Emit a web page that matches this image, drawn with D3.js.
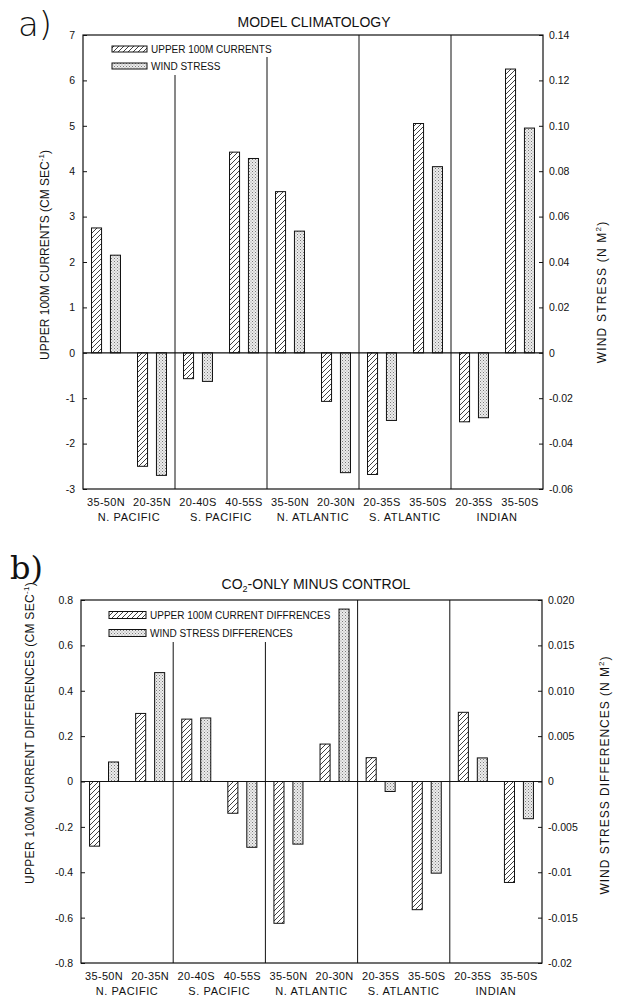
<!DOCTYPE html>
<html>
<head>
<meta charset="utf-8">
<script src="https://cdn.jsdelivr.net/npm/d3@7/dist/d3.min.js"></script>
<style>
  html, body { margin: 0; padding: 0; background: #fff; }
  svg { display: block; }
  text { font-family: "Liberation Sans", Arial, Helvetica, sans-serif; fill: #111; }
</style>
</head>
<body>
<svg id="chart" width="619" height="999"></svg>
<script>
// ---------------- DATA ----------------
const regions = ["N. PACIFIC", "S. PACIFIC", "N. ATLANTIC", "S. ATLANTIC", "INDIAN"];
const bands = ["35-50N", "20-35N", "20-40S", "40-55S", "35-50N", "20-30N", "20-35S", "35-50S", "20-35S", "35-50S"];

// Panel a: model climatology
const currentsA = [2.75, -2.5, -0.57, 4.42, 3.55, -1.07, -2.68, 5.05, -1.52, 6.25];       // cm/s
const windA = [0.043, -0.054, -0.0126, 0.0856, 0.0536, -0.0528, -0.0298, 0.082, -0.0286, 0.099]; // N/m2
const ticksAL = [-3, -2, -1, 0, 1, 2, 3, 4, 5, 6, 7];
const tickLabelsAL = ["-3", "-2", "-1", "0", "1", "2", "3", "4", "5", "6", "7"];
const ticksAR = [-0.06, -0.04, -0.02, 0, 0.02, 0.04, 0.06, 0.08, 0.10, 0.12, 0.14];
const tickLabelsAR = ["-0.06", "-0.04", "-0.02", "0", "0.02", "0.04", "0.06", "0.08", "0.10", "0.12", "0.14"];

// Panel b: CO2-only minus control
const currentsB = [-0.285, 0.30, 0.275, -0.14, -0.625, 0.165, 0.105, -0.565, 0.305, -0.445];
const windB = [0.00215, 0.012, 0.0070, -0.00725, -0.0069, 0.019, -0.0011, -0.0101, 0.0026, -0.0041];
const ticksBL = [-0.8, -0.6, -0.4, -0.2, 0, 0.2, 0.4, 0.6, 0.8];
const tickLabelsBL = ["-0.8", "-0.6", "-0.4", "-0.2", "0", "0.2", "0.4", "0.6", "0.8"];
const ticksBR = [-0.02, -0.015, -0.01, -0.005, 0, 0.005, 0.010, 0.015, 0.020];
const tickLabelsBR = ["-0.02", "-0.015", "-0.01", "-0.005", "0", "0.005", "0.010", "0.015", "0.020"];

const seriesKeys = ["current", "wind"];

// ---------------- DRAWING ----------------
const svg = d3.select("#chart");
svg.append("rect").attr("width", 619).attr("height", 999).attr("fill", "#fff");

const defs = svg.append("defs");
const hatch = defs.append("pattern").attr("id", "hatch")
  .attr("patternUnits", "userSpaceOnUse").attr("width", 5).attr("height", 5);
hatch.append("rect").attr("width", 5).attr("height", 5).attr("fill", "#fff");
hatch.append("path").attr("d", "M-1,6 L6,-1 M-1,1 L1,-1 M4,6 L6,4")
  .attr("stroke", "#111").attr("stroke-width", 0.8);

const dots = defs.append("pattern").attr("id", "dots")
  .attr("patternUnits", "userSpaceOnUse").attr("width", 3).attr("height", 3);
dots.append("rect").attr("width", 3).attr("height", 3).attr("fill", "#ececec");
dots.append("rect").attr("x", 0).attr("y", 0).attr("width", 1).attr("height", 1).attr("fill", "#7a7a7a");
dots.append("rect").attr("x", 1.5).attr("y", 1.5).attr("width", 1).attr("height", 1).attr("fill", "#9a9a9a");

const fills = { current: "url(#hatch)", wind: "url(#dots)" };

function drawPanel(cfg) {
  const g = svg.append("g");
  const keys = bands.map((b, i) => i);
  const x = d3.scaleBand().domain(keys).range([cfg.left, cfg.right]);
  const xg = d3.scaleBand().domain(regions).range([cfg.left, cfg.right]);
  const x1 = d3.scaleBand().domain(seriesKeys).range([0, x.bandwidth()])
    .paddingInner(0.47).paddingOuter(0.45);
  const yL = d3.scaleLinear().domain(cfg.domL).range([cfg.bottom, cfg.top]);
  const yR = d3.scaleLinear().domain(cfg.domR).range([cfg.bottom, cfg.top]);

  // bars
  const rows = keys.map(i => ({ i, current: cfg.cur[i], wind: cfg.wind[i] }));
  rows.forEach(r => {
    seriesKeys.forEach(s => {
      const sc = s === "current" ? yL : yR;
      const v = r[s];
      const y0 = sc(0), y1 = sc(v);
      g.append("rect")
        .attr("x", x(r.i) + x1(s))
        .attr("width", x1.bandwidth())
        .attr("y", Math.min(y0, y1))
        .attr("height", Math.abs(y1 - y0))
        .attr("fill", fills[s])
        .attr("stroke", "#111")
        .attr("stroke-width", 1);
    });
  });

  // zero line
  g.append("line").attr("x1", cfg.left).attr("x2", cfg.right)
    .attr("y1", yL(0)).attr("y2", yL(0)).attr("stroke", "#111").attr("stroke-width", 1.2);

  // separators
  regions.slice(1).forEach((rg, k) => {
    const sx = xg(rg);
    g.append("line").attr("x1", sx).attr("x2", sx)
      .attr("y1", cfg.sepTops[k]).attr("y2", cfg.bottom)
      .attr("stroke", "#111").attr("stroke-width", 1);
  });

  // frame
  g.append("rect").attr("x", cfg.left).attr("y", cfg.top)
    .attr("width", cfg.right - cfg.left).attr("height", cfg.bottom - cfg.top)
    .attr("fill", "none").attr("stroke", "#111").attr("stroke-width", 1.2);

  // axes
  const axL = d3.axisLeft(yL).tickValues(cfg.tickL)
    .tickFormat((d, i) => cfg.tickLabL[i]).tickSizeInner(-4).tickSizeOuter(0).tickPadding(8);
  const gl = g.append("g").attr("transform", `translate(${cfg.left},0)`).call(axL);
  gl.select(".domain").remove();
  gl.selectAll("text").style("font-family", "Liberation Sans, Arial, sans-serif").style("font-size", "10.5px").attr("fill", "#111");
  gl.selectAll("line").attr("stroke", "#111");

  const axR = d3.axisRight(yR).tickValues(cfg.tickR)
    .tickFormat((d, i) => cfg.tickLabR[i]).tickSizeInner(-4).tickSizeOuter(0).tickPadding(6);
  const gr = g.append("g").attr("transform", `translate(${cfg.right},0)`).call(axR);
  gr.select(".domain").remove();
  gr.selectAll("text").style("font-family", "Liberation Sans, Arial, sans-serif").style("font-size", "10.5px").attr("fill", "#111");
  gr.selectAll("line").attr("stroke", "#111");

  // category labels
  keys.forEach(i => {
    g.append("text").attr("x", x(i) + x.bandwidth() / 2).attr("y", cfg.bottom + 17)
      .attr("text-anchor", "middle").style("font-size", "11px").style("letter-spacing", "0.3px")
      .text(bands[i]);
  });
  regions.forEach(rg => {
    g.append("text").attr("x", xg(rg) + xg.bandwidth() / 2).attr("y", cfg.bottom + 32)
      .attr("text-anchor", "middle").style("font-size", "11px").style("letter-spacing", "0.6px")
      .text(rg);
  });

  // title
  const t = g.append("text").attr("x", cfg.titleX).attr("y", cfg.titleY)
    .attr("text-anchor", "middle").style("font-size", "14px");
  cfg.title.forEach(p => {
    const ts = t.append("tspan").text(p.t);
    if (p.sub) ts.attr("font-size", "9px").attr("dy", 3);
    if (p.after) ts.attr("dy", -3);
  });

  // panel letter
  g.append("text").attr("x", cfg.letterX).attr("y", cfg.letterY)
    .style("font-family", cfg.letterFont).style("font-size", cfg.letterSize)
    .style("font-weight", cfg.letterWeight).text(cfg.letter);

  // legend
  cfg.legend.forEach((lab, k) => {
    const ly = cfg.legY[k];
    g.append("rect").attr("x", cfg.legX).attr("y", ly - cfg.legH / 2)
      .attr("width", cfg.legW).attr("height", cfg.legH)
      .attr("fill", fills[seriesKeys[k]]).attr("stroke", "#111").attr("stroke-width", 1);
    g.append("text").attr("x", cfg.legX + cfg.legW + 4).attr("y", ly + 3.6)
      .style("font-size", "10px").text(lab);
  });

  // y labels
  function rotLabel(xp, yp, parts, spacing) {
    const tx = g.append("text").attr("transform", `translate(${xp},${yp}) rotate(-90)`)
      .attr("text-anchor", "middle").style("font-size", "12px").style("letter-spacing", spacing);
    parts.forEach(p => {
      const ts = tx.append("tspan").text(p.t);
      if (p.sup) ts.attr("font-size", "8px").attr("dy", -5);
      if (p.after) ts.attr("dy", 5);
    });
  }
  rotLabel(cfg.yLabL.x, cfg.yLabL.y, cfg.yLabL.parts, cfg.yLabL.sp);
  rotLabel(cfg.yLabR.x, cfg.yLabR.y, cfg.yLabR.parts, cfg.yLabR.sp);
}

drawPanel({
  left: 83, right: 543, top: 35, bottom: 489,
  domL: [-3, 7], domR: [-0.06, 0.14],
  tickL: ticksAL, tickLabL: tickLabelsAL, tickR: ticksAR, tickLabR: tickLabelsAR,
  cur: currentsA, wind: windA,
  sepTops: [75, 57, 35, 35],
  title: [{ t: "MODEL CLIMATOLOGY" }], titleX: 314, titleY: 27,
  letter: "a)", letterX: 18, letterY: 36, letterSize: "34px", letterWeight: 200,
  letterFont: "DejaVu Sans, sans-serif",
  legend: ["UPPER 100M CURRENTS", "WIND STRESS"], legX: 112, legW: 35, legH: 6, legY: [49, 66],
  yLabL: { x: 49, y: 255, sp: "0px", parts: [{ t: "UPPER 100M CURRENTS (CM SEC" }, { t: "-1", sup: true }, { t: ")", after: true }] },
  yLabR: { x: 606, y: 292, sp: "1.2px", parts: [{ t: "WIND STRESS (N M" }, { t: "2", sup: true }, { t: ")", after: true }] }
});

drawPanel({
  left: 81, right: 542, top: 600, bottom: 963,
  domL: [-0.8, 0.8], domR: [-0.02, 0.02],
  tickL: ticksBL, tickLabL: tickLabelsBL, tickR: ticksBR, tickLabR: tickLabelsBR,
  cur: currentsB, wind: windB,
  sepTops: [642, 642, 600, 600],
  title: [{ t: "CO" }, { t: "2", sub: true }, { t: "-ONLY MINUS CONTROL", after: true }], titleX: 316, titleY: 589,
  letter: "b)", letterX: 10, letterY: 579, letterSize: "32px", letterWeight: 200,
  letterFont: "DejaVu Serif, serif",
  legend: ["UPPER 100M CURRENT DIFFRENCES", "WIND STRESS DIFFERENCES"], legX: 109, legW: 37, legH: 7, legY: [615, 633],
  yLabL: { x: 34, y: 733, sp: "0.3px", parts: [{ t: "UPPER 100M CURRENT DIFFERENCES  (CM SEC" }, { t: "-1", sup: true }, { t: ")", after: true }] },
  yLabR: { x: 609, y: 775, sp: "1px", parts: [{ t: "WIND STRESS DIFFERENCES (N  M" }, { t: "2", sup: true }, { t: ")", after: true }] }
});
</script>
</body>
</html>
